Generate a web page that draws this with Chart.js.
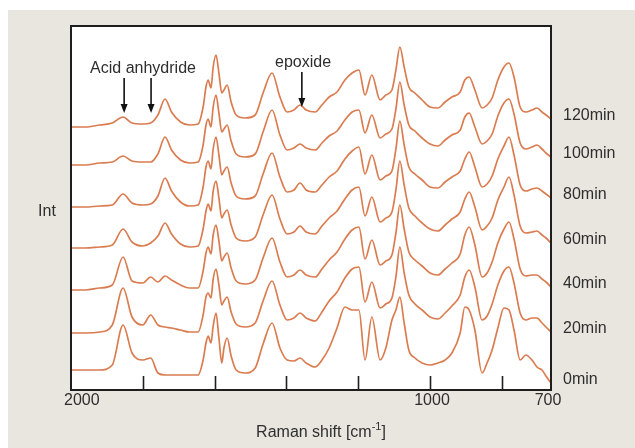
<!DOCTYPE html>
<html>
<head>
<meta charset="utf-8">
<script src="https://cdn.jsdelivr.net/npm/chart.js@4.4.1/dist/chart.umd.min.js"></script>
<style>
  body { margin: 0; background: #fff; }
</style>
</head>
<body>
<canvas id="myChart" width="635" height="448"></canvas>
<script>
// Raman shift (cm-1) of every sample point
const shift = [2000,1960,1920,1885,1855,1830,1800,1778,1758,1738,1720,1695,1670,1646,1632,1624,1618,1610,1604,1596,1588,1580,1574,1565,1554,1540,1515,1487,1465,1440,1418,1398,1379,1362,1345,1320,1301,1281,1259,1237,1217,1198,1181,1162,1139,1123,1106,1095,1084,1072,1059,1042,1022,1000,978,958,939,916,903,891,875,855,841,827,811,794,780,766,749,733,716,702,688,677,663];

const times = ['120min','100min','80min','60min','40min','20min','0min'];
const offsets = [248,211,169,127,85,43,0];

const int120 = [8,8,10,12,18,12,11,12,20,36,23,13,10,11,28,48,55,47,68,80,62,42,45,50,33,20,17,20,42,62,38,23,25,30,25,23,30,38,43,55,62,65,40,60,35,40,45,65,88,68,48,42,35,28,27,33,38,43,55,58,45,27,30,37,55,68,72,58,28,23,25,27,23,20,16];
const int100 = [7,7,9,10,16,11,10,10,18,35,22,12,9,10,27,47,53,45,65,77,59,40,43,47,31,18,15,18,40,62,37,22,24,28,24,22,29,36,41,52,60,62,39,57,34,38,43,63,90,67,47,41,34,28,26,32,37,42,55,59,45,28,31,38,56,69,73,58,29,23,25,27,23,19,15];
const int80 = [7,7,8,9,20,11,9,10,18,36,23,12,8,9,27,47,53,45,65,77,59,39,43,47,31,18,15,18,40,61,37,22,24,31,24,22,29,37,43,55,63,67,40,59,34,38,43,65,93,69,47,40,34,27,26,32,37,43,55,62,47,27,30,38,55,68,77,59,29,23,25,26,23,20,16];
const int60 = [8,8,9,11,27,14,10,13,20,33,22,12,9,10,27,45,52,45,65,75,58,38,42,46,31,18,15,19,41,61,37,22,24,30,24,22,30,38,45,57,66,69,40,59,34,38,44,66,95,71,48,40,33,27,25,31,37,44,57,64,49,26,30,38,56,69,79,61,30,23,24,25,21,18,13];
const int40 = [8,8,10,13,41,17,15,21,16,22,18,13,10,10,27,45,51,44,63,73,57,37,41,45,30,17,14,18,40,60,36,21,23,28,23,21,29,38,46,59,68,71,39,58,33,37,43,65,93,69,46,38,32,25,23,29,35,44,63,71,53,21,25,36,55,69,76,59,29,22,23,23,19,16,11];
const int20 = [7,7,8,15,52,23,15,25,15,13,12,10,8,8,25,43,47,42,61,71,55,35,39,43,28,16,13,17,39,59,35,20,22,27,22,19,28,39,48,62,71,73,38,58,32,36,42,63,93,67,45,36,30,23,21,27,34,45,63,70,53,20,24,36,55,69,73,57,27,20,22,22,17,13,8];
const int0 = [13,13,13,18,58,30,23,25,10,8,8,8,8,8,23,40,47,40,57,70,45,20,35,45,27,13,10,15,39,60,35,23,22,25,20,16,23,35,55,76,73,73,23,66,23,35,63,73,86,60,33,25,20,18,20,23,30,50,76,73,53,10,20,33,55,75,73,53,23,28,23,16,13,7,0];

const spectra = [int120, int100, int80, int60, int40, int20, int0];

// axis ticks and labels
const tickValues = [1800,1600,1400,1200,1000,800];
const xLabels = ['2000','1000','700'];
const xLabelAt = [2000,1000,663];

// arrow positions (cm-1)
const anhydrideAt = [1852,1777];
const epoxideAt = [1357];

const FONT = '"Liberation Sans", Arial, sans-serif';
const TEXT = '#2e2e2e';

function arrow(ctx, x, y1, y2) {
    ctx.beginPath();
    ctx.moveTo(x, y1);
    ctx.lineTo(x, y2 - 7);
    ctx.stroke();
    ctx.beginPath();
    ctx.moveTo(x - 3.5, y2 - 9);
    ctx.lineTo(x + 3.5, y2 - 9);
    ctx.lineTo(x, y2);
    ctx.closePath();
    ctx.fill();
}

const decor = {
    id: 'decor',
    beforeDraw(chart) {
        const ctx = chart.ctx;
        const a = chart.chartArea;
        ctx.save();
        ctx.fillStyle = '#ffffff';
        ctx.fillRect(0, 0, chart.width, chart.height);
        ctx.fillStyle = '#e9e6e0';
        ctx.fillRect(8, 10, chart.width - 8, chart.height - 10);
        ctx.fillStyle = '#ffffff';
        ctx.fillRect(a.left, a.top, a.right - a.left, a.bottom - a.top);
        ctx.restore();
    },
    afterDraw(chart) {
        const ctx = chart.ctx;
        const a = chart.chartArea;
        const xs = chart.scales.x;
        ctx.save();

        // frame
        ctx.strokeStyle = '#1e1e1e';
        ctx.lineWidth = 2;
        ctx.strokeRect(a.left, a.top, a.right - a.left, a.bottom - a.top);

        // inward ticks
        ctx.lineWidth = 1.6;
        tickValues.forEach(v => {
            const x = Math.round(xs.getPixelForValue(v)) + 0.5;
            ctx.beginPath();
            ctx.moveTo(x, a.bottom);
            ctx.lineTo(x, a.bottom - 14);
            ctx.stroke();
        });

        ctx.fillStyle = TEXT;
        ctx.font = '16px ' + FONT;
        ctx.textBaseline = 'middle';
        xLabels.forEach((t, i) => {
            const x = xs.getPixelForValue(xLabelAt[i]);
            if (i === 0) {
                ctx.textAlign = 'left';
                ctx.fillText(t, x - 7, a.bottom + 11);
            } else {
                ctx.textAlign = 'center';
                ctx.fillText(t, i === xLabels.length - 1 ? x - 3 : x + 2, a.bottom + 11);
            }
        });

        // axis title with superscript
        const main = 'Raman shift [cm';
        ctx.font = '16px ' + FONT;
        const w1 = ctx.measureText(main).width;
        const w3 = ctx.measureText(']').width;
        ctx.font = '11px ' + FONT;
        const w2 = ctx.measureText('-1').width;
        let x0 = 321 - (w1 + w2 + w3) / 2;
        ctx.textAlign = 'left';
        ctx.font = '16px ' + FONT;
        ctx.fillText(main, x0, 433);
        ctx.font = '11px ' + FONT;
        ctx.fillText('-1', x0 + w1, 427);
        ctx.font = '16px ' + FONT;
        ctx.fillText(']', x0 + w1 + w2, 433);

        ctx.textAlign = 'center';
        ctx.fillText('Int', 47, 212);

        // time labels at the end of each trace
        ctx.textAlign = 'left';
        chart.data.datasets.forEach((ds, i) => {
            const pts = chart.getDatasetMeta(i).data;
            const last = pts[pts.length - 1];
            ctx.fillText(ds.label, a.right + 12, last.y - 3);
        });

        // annotations
        ctx.textAlign = 'center';
        ctx.fillText('Acid anhydride', 143, 69);
        ctx.fillText('epoxide', 303, 63);
        ctx.strokeStyle = '#111';
        ctx.fillStyle = '#111';
        ctx.lineWidth = 1.6;
        anhydrideAt.forEach(v => arrow(ctx, xs.getPixelForValue(v), 78, 113));
        epoxideAt.forEach(v => arrow(ctx, xs.getPixelForValue(v), 72, 107));

        ctx.restore();
    }
};

const datasets = times.map((t, k) => ({
    label: t,
    data: shift.map((s, i) => ({ x: s, y: spectra[k][i] + offsets[k] })),
    borderColor: 'rgb(218,124,80)',
    borderWidth: 1.7,
    pointRadius: 0,
    tension: 0.25,
    cubicInterpolationMode: 'monotone',
    fill: false
}));

new Chart(document.getElementById('myChart'), {
    type: 'line',
    data: { datasets: datasets },
    options: {
        responsive: false,
        animation: false,
        layout: { padding: { left: 71, right: 84, top: 26, bottom: 58 } },
        plugins: { legend: { display: false }, tooltip: { enabled: false } },
        scales: {
            x: { type: 'linear', reverse: true, min: 663, max: 2000, display: false },
            y: { type: 'linear', min: -7, max: 357, display: false }
        }
    },
    plugins: [decor]
});
</script>
</body>
</html>
